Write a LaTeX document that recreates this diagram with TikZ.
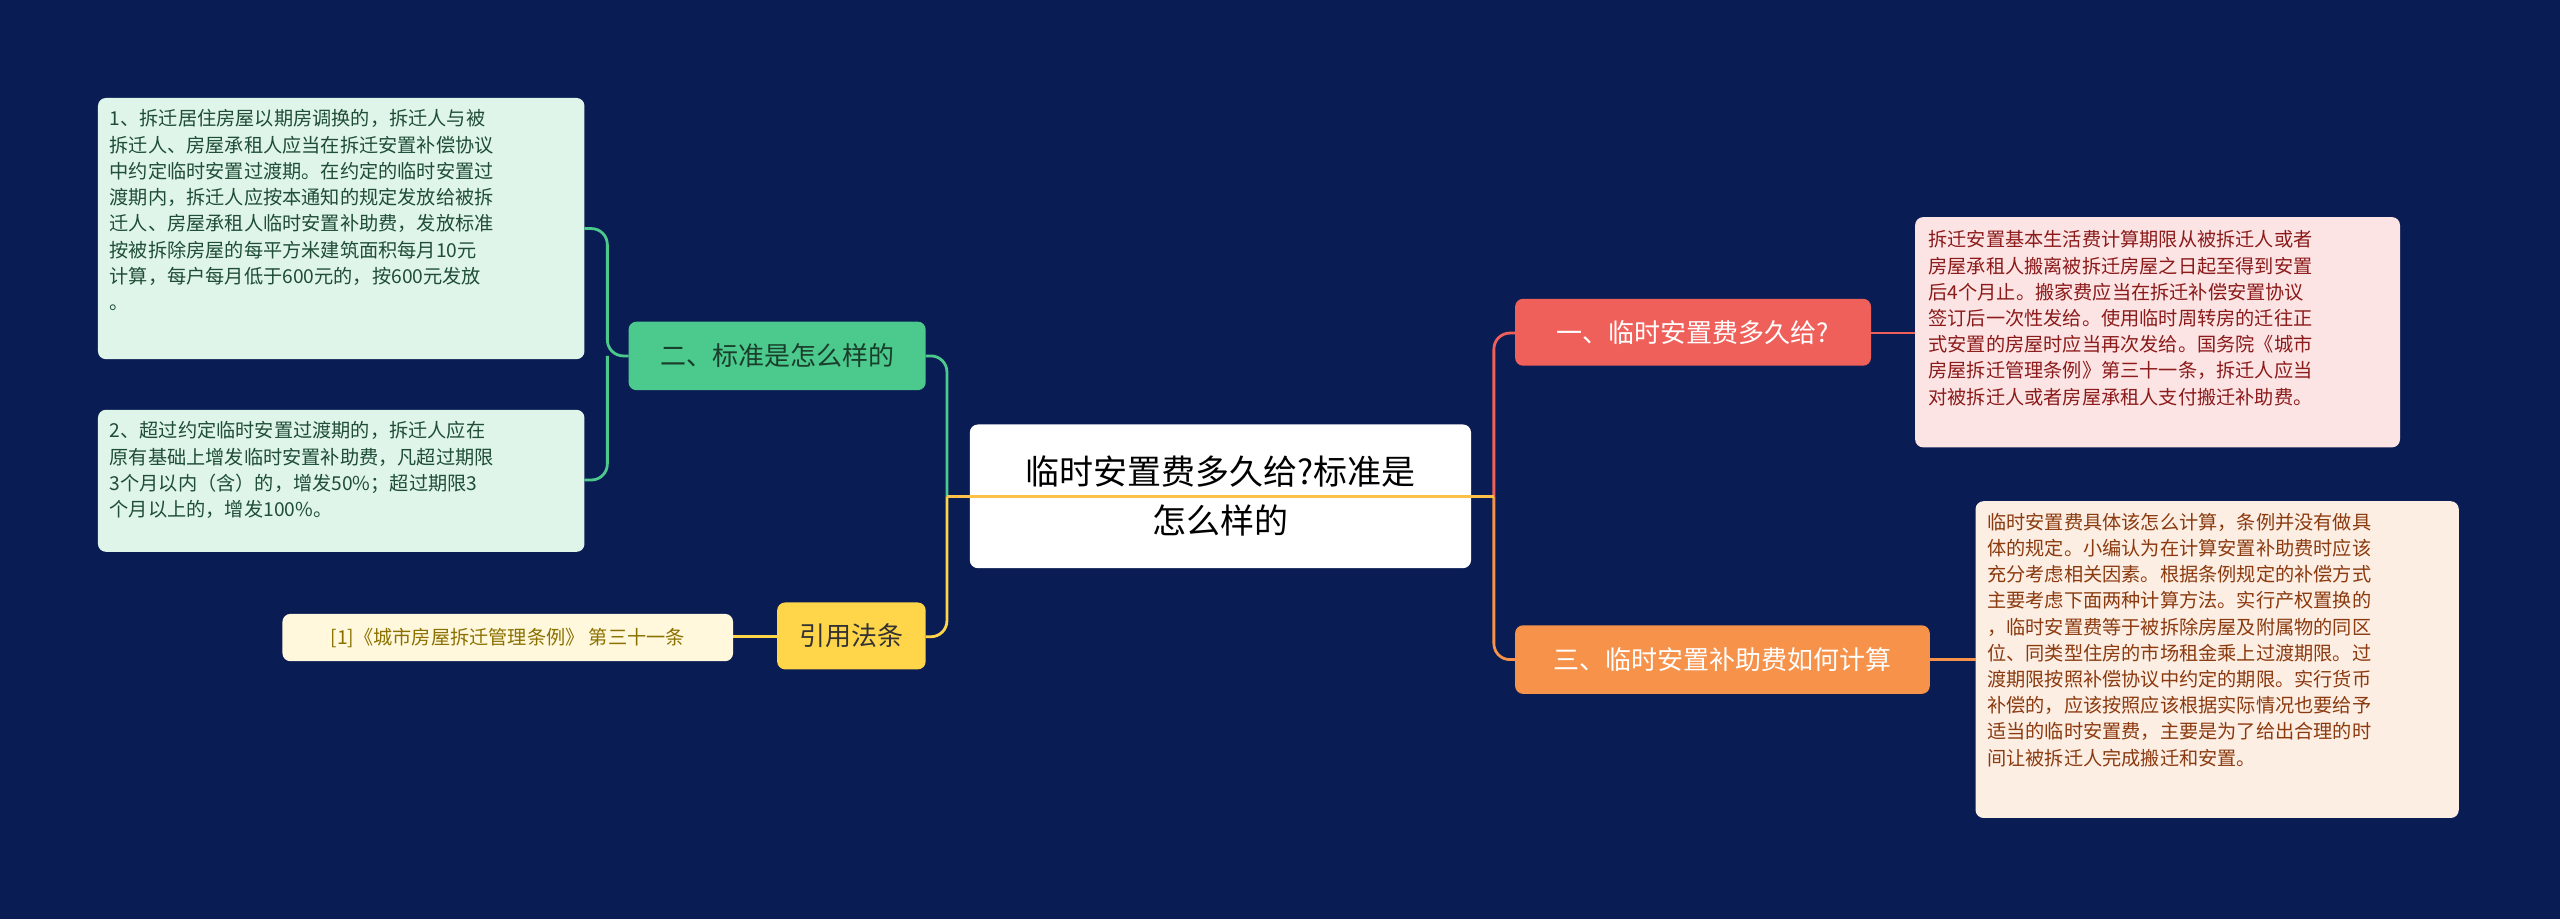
\documentclass[tikz,border=0pt]{standalone}
\usepackage{fontspec}
\setmainfont{Noto Sans CJK SC}
\definecolor{bg}{HTML}{0A1C54}
\definecolor{cred}{HTML}{F0605A}
\definecolor{corg}{HTML}{F7924A}
\definecolor{cgrn}{HTML}{4CC98C}
\definecolor{cyel}{HTML}{FFD54A}
\definecolor{lred}{HTML}{FDE4E4}
\definecolor{lorg}{HTML}{FDEEE3}
\definecolor{lgrn}{HTML}{DFF5EA}
\definecolor{lyel}{HTML}{FFF8DC}
\definecolor{tred}{HTML}{8B1A1A}
\definecolor{torg}{HTML}{8B3A0F}
\definecolor{tgrn}{HTML}{1F4D36}
\definecolor{tyel}{HTML}{8B7000}
\begin{document}
\begin{tikzpicture}[x=0.8163pt,y=-0.8163pt,
  box/.style={rounded corners=4pt,inner sep=0pt},
  leaf/.style={box,align=left,font=\fontsize{9.6}{13.1}\selectfont},
  br/.style={box,font=\fontsize{13}{16}\selectfont},
  con/.style={line width=1.4pt,rounded corners=8pt}]
\fill[bg] (0,0) rectangle (1568,563);
\useasboundingbox (0,0) rectangle (1568,563);
% nodes as rectangles + text
\fill[white,rounded corners=4pt] (594,260) rectangle (901,348);
\node (c) at (747.5,304) [align=center,font=\fontsize{17}{24.5}\selectfont] {临时安置费多久给?标准是\\怎么样的};
\fill[cred,rounded corners=4pt] (928,183) rectangle (1146,224);
\node[br,text=white] (b1) at (1037,203.5) {一、临时安置费多久给?};
\fill[corg,rounded corners=4pt] (928,383) rectangle (1182,425);
\node[br,text=white] (b3) at (1055,404) {三、临时安置补助费如何计算};
\fill[cgrn,rounded corners=4pt] (385,197) rectangle (567,239);
\node[br,text=tgrn!80!black] (b2) at (476,218) {二、标准是怎么样的};
\fill[cyel,rounded corners=4pt] (476,369) rectangle (567,410);
\node[br,text=black!80] (b4) at (521.5,389.5) {引用法条};
\fill[lred,rounded corners=4pt] (1173,133) rectangle (1470,274);
\node[leaf,text=tred,anchor=north west] (l1) at (1181,141) {拆迁安置基本生活费计算期限从被拆迁人或者\\房屋承租人搬离被拆迁房屋之日起至得到安置\\后4个月止。搬家费应当在拆迁补偿安置协议\\签订后一次性发给。使用临时周转房的迁往正\\式安置的房屋时应当再次发给。国务院《城市\\房屋拆迁管理条例》第三十一条，拆迁人应当\\对被拆迁人或者房屋承租人支付搬迁补助费。};
\fill[lorg,rounded corners=4pt] (1210,307) rectangle (1506,501);
\node[leaf,text=torg,anchor=north west] (l3) at (1217,314) {临时安置费具体该怎么计算，条例并没有做具\\体的规定。小编认为在计算安置补助费时应该\\充分考虑相关因素。根据条例规定的补偿方式\\主要考虑下面两种计算方法。实行产权置换的\\，临时安置费等于被拆除房屋及附属物的同区\\位、同类型住房的市场租金乘上过渡期限。过\\渡期限按照补偿协议中约定的期限。实行货币\\补偿的，应该按照应该根据实际情况也要给予\\适当的临时安置费，主要是为了给出合理的时\\间让被拆迁人完成搬迁和安置。};
\fill[lgrn,rounded corners=4pt] (60,60) rectangle (358,220);
\node[leaf,text=tgrn,anchor=north west] (l2a) at (67,67) {1、拆迁居住房屋以期房调换的，拆迁人与被\\拆迁人、房屋承租人应当在拆迁安置补偿协议\\中约定临时安置过渡期。在约定的临时安置过\\渡期内，拆迁人应按本通知的规定发放给被拆\\迁人、房屋承租人临时安置补助费，发放标准\\按被拆除房屋的每平方米建筑面积每月10元\\计算，每户每月低于600元的，按600元发放\\。};
\fill[lgrn,rounded corners=4pt] (60,251) rectangle (358,338);
\node[leaf,text=tgrn,anchor=north west] (l2b) at (67,258) {2、超过约定临时安置过渡期的，拆迁人应在\\原有基础上增发临时安置补助费，凡超过期限\\3个月以内（含）的，增发50\%；超过期限3\\个月以上的，增发100\%。};
\fill[lyel,rounded corners=4pt] (173,376) rectangle (449,405);
\node[leaf,text=tyel] (l4) at (311,390.5) {[1]《城市房屋拆迁管理条例》 第三十一条};
% connectors
\draw[con,cgrn] (580,304) -- (580,218) -- (567,218);
\draw[con,cyel] (580,304) -- (580,390) -- (567,390);
\draw[con,cred] (915,304) -- (915,204) -- (928,204);
\draw[con,corg] (915,304) -- (915,404) -- (928,404);
\draw[line width=1.4pt,cyel!70!corg] (580,304) -- (915,304);
\draw[con,cgrn] (385,218) -- (372,218) -- (372,140) -- (358,140);
\draw[con,cgrn] (372,218) -- (372,294) -- (358,294);
\draw[con,cred] (1146,204) -- (1173,204);
\draw[con,corg] (1182,404) -- (1210,404);
\draw[con,cyel] (476,390) -- (449,390);
\end{tikzpicture}
\end{document}
